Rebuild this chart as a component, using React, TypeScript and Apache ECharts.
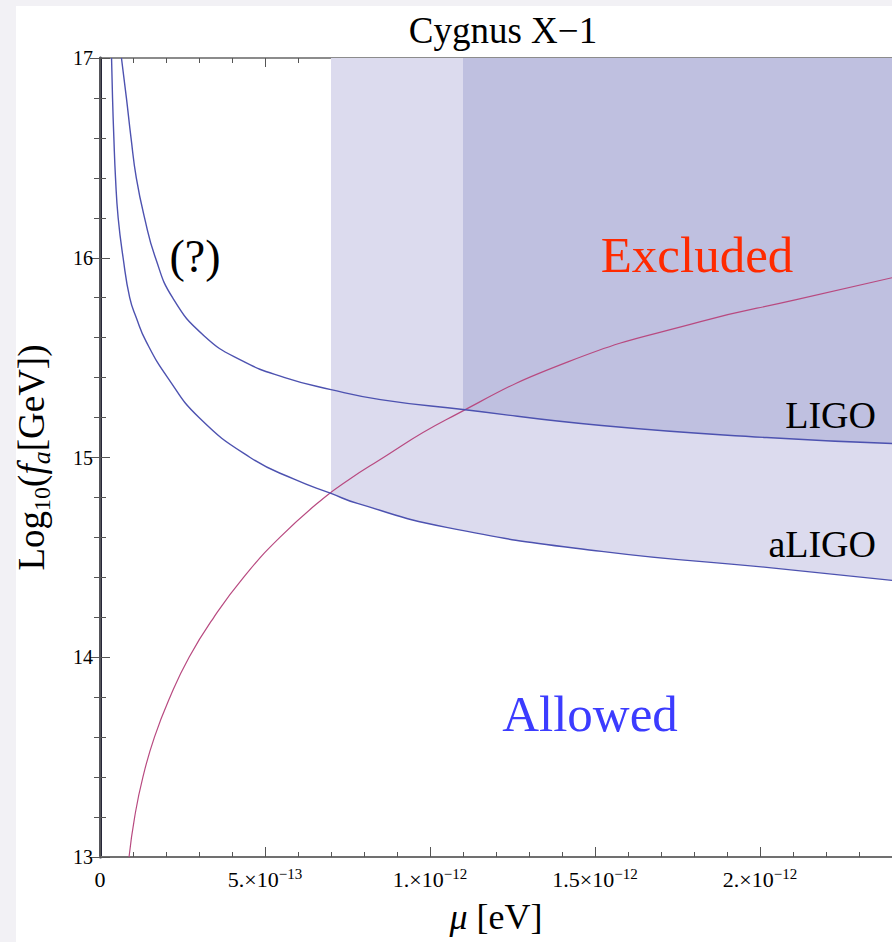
import { useEffect, useRef } from 'react';
import * as echarts from 'echarts';

const FONT = '"Liberation Serif", "Times New Roman", Times, serif';

// μ in units of 1e-13 eV ; values are Log10(f_a [GeV])
const ligoMu = [0.65, 0.8, 0.94, 1.1, 1.35, 1.68, 2.2, 3.15, 4.3, 5.6, 7.0, 8.5, 11.0, 15.2, 20.2, 24];
const ligoLogFa = [17, 16.8, 16.6, 16.4, 16.2, 16.0, 15.8, 15.61, 15.485, 15.4, 15.34, 15.29, 15.24, 15.16, 15.1, 15.07];

const aligoMu = [0.35, 0.38, 0.42, 0.47, 0.55, 0.7, 0.9, 1.1, 1.4, 2.05, 3.0, 4.55, 5.9, 7.0, 7.8, 10.5, 15.2, 20.2, 24];
const aligoLogFa = [17, 16.8, 16.6, 16.4, 16.2, 16.0, 15.8, 15.7, 15.58, 15.4, 15.2, 15.0, 14.89, 14.82, 14.77, 14.65, 14.53, 14.45, 14.385];

const bhMu = [0.88, 1.05, 1.3, 1.65, 2.12, 2.7, 3.45, 4.35, 5.45, 6.8, 7.55, 8.3, 10.5, 14.2, 18.2, 21.1, 24];
const bhLogFa = [13, 13.2, 13.4, 13.6, 13.8, 14.0, 14.2, 14.4, 14.6, 14.8, 14.89, 14.97, 15.19, 15.48, 15.68, 15.79, 15.9];

// excluded-region starting masses (1e-13 eV)
const aligoRegionStart = 7.0;
const ligoRegionStart = 11.0;

// x tick labels
const xTickValues = [0, 5, 10, 15, 20];
const xTickMantissa = ['0', '5.×10', '1.×10', '1.5×10', '2.×10'];
const xTickExponent = ['', '−13', '−12', '−12', '−12'];

const X_MIN = 0;
const X_MAX = 24;
const Y_MIN = 13;
const Y_MAX = 17;

const BLUE = '#4d52b0';
const RED = '#b84a80';
const LIGHT = '#dcdbee';
const DARK = '#bfc0e0';
const SMOOTH = 0.5;

function pairs(xs: number[], ys: number[]) {
  return xs.map((x, i) => [x, ys[i]]);
}

function fromX(xs: number[], ys: number[], start: number) {
  return pairs(xs, ys).filter((p) => p[0] >= start);
}

export default function App() {
  const ref = useRef<HTMLDivElement>(null);

  useEffect(() => {
    const chart = echarts.init(ref.current!, null, { renderer: 'svg' });

    const tickColor = '#555';
    const baseX = {
      type: 'value',
      min: X_MIN,
      max: X_MAX,
      splitLine: { show: false },
      axisLabel: { show: false },
    };
    const baseY = {
      type: 'value',
      min: Y_MIN,
      max: Y_MAX,
      splitLine: { show: false },
      axisLabel: { show: false },
    };

    const option: any = {
      animation: false,
      backgroundColor: '#ffffff',
      title: {
        text: 'Cygnus X−1',
        left: 498,
        top: 4,
        textAlign: 'center',
        textStyle: { fontFamily: FONT, fontSize: 37, fontWeight: 'normal', color: '#000', lineHeight: 42 },
      },
      grid: { left: 100, top: 58, right: -8, bottom: 85, containLabel: false },
      xAxis: [
        {
          ...baseX,
          position: 'bottom',
          interval: 5,
          axisLine: { show: true, lineStyle: { color: '#707070', width: 2 } },
          axisTick: { show: true, inside: true, length: 10, lineStyle: { color: tickColor, width: 1 } },
          axisLabel: {
            show: true,
            margin: 9,
            showMaxLabel: false,
            formatter: (v: number) => {
              const i = xTickValues.indexOf(Math.round(v * 1000) / 1000);
              if (i < 0) return '';
              return xTickExponent[i]
                ? `{m|${xTickMantissa[i]}}{s|${xTickExponent[i]}}`
                : `{m|${xTickMantissa[i]}}`;
            },
            rich: {
              m: { fontFamily: FONT, fontSize: 22, color: '#000', lineHeight: 26 },
              s: { fontFamily: FONT, fontSize: 15, color: '#000', lineHeight: 14, verticalAlign: 'top' },
            },
          },
          name: '{i|μ}{n| [eV]}',
          nameLocation: 'middle',
          nameGap: 40,
          nameTextStyle: {
            rich: {
              i: { fontFamily: FONT, fontSize: 36, fontStyle: 'italic', color: '#000', lineHeight: 40 },
              n: { fontFamily: FONT, fontSize: 36, color: '#000', lineHeight: 40 },
            },
          },
        },
        {
          ...baseX,
          position: 'bottom',
          interval: 1,
          axisLine: { show: false },
          axisTick: { show: true, inside: true, length: 5, lineStyle: { color: tickColor, width: 1 } },
        },
        {
          ...baseX,
          position: 'top',
          interval: 5,
          axisLine: { show: true, lineStyle: { color: '#666', width: 1.5 } },
          axisTick: { show: true, inside: true, length: 9, lineStyle: { color: tickColor, width: 1 } },
        },
        {
          ...baseX,
          position: 'top',
          interval: 1,
          axisLine: { show: false },
          axisTick: { show: true, inside: true, length: 5, lineStyle: { color: tickColor, width: 1 } },
        },
      ],
      yAxis: [
        {
          ...baseY,
          position: 'left',
          interval: 1,
          axisLine: { show: true, lineStyle: { color: '#262638', width: 3 } },
          axisTick: { show: true, inside: true, length: 10, lineStyle: { color: tickColor, width: 1 } },
          axisLabel: { show: true, margin: 7, fontFamily: FONT, fontSize: 20, color: '#000' },
          name: '{n|Log}{sub|10}{n|(}{i|f}{subi|a}{n|[GeV])}',
          nameLocation: 'middle',
          nameGap: 46,
          nameRotate: 90,
          nameTextStyle: {
            rich: {
              n: { fontFamily: FONT, fontSize: 37, color: '#000', lineHeight: 46 },
              i: { fontFamily: FONT, fontSize: 37, fontStyle: 'italic', color: '#000', lineHeight: 46 },
              sub: { fontFamily: FONT, fontSize: 24, color: '#000', lineHeight: 20, verticalAlign: 'bottom' },
              subi: { fontFamily: FONT, fontSize: 26, fontStyle: 'italic', color: '#000', lineHeight: 20, verticalAlign: 'bottom' },
            },
          },
        },
        {
          ...baseY,
          position: 'left',
          interval: 0.2,
          axisLine: { show: false },
          axisTick: { show: true, inside: true, length: 6, lineStyle: { color: tickColor, width: 1 } },
        },
        {
          ...baseY,
          position: 'right',
          interval: 1,
          axisLine: { show: true, lineStyle: { color: '#666', width: 1.5 } },
          axisTick: { show: true, inside: true, length: 10, lineStyle: { color: tickColor, width: 1 } },
        },
        {
          ...baseY,
          position: 'right',
          interval: 0.2,
          axisLine: { show: false },
          axisTick: { show: true, inside: true, length: 6, lineStyle: { color: tickColor, width: 1 } },
        },
      ],
      series: [
        {
          name: 'aLIGO excluded',
          type: 'line',
          data: fromX(aligoMu, aligoLogFa, aligoRegionStart),
          symbol: 'none',
          smooth: SMOOTH,
          lineStyle: { width: 0 },
          areaStyle: { color: LIGHT, opacity: 1, origin: 'end' },
          z: 1,
        },
        {
          name: 'LIGO excluded',
          type: 'line',
          data: fromX(ligoMu, ligoLogFa, ligoRegionStart),
          symbol: 'none',
          smooth: SMOOTH,
          lineStyle: { width: 0 },
          areaStyle: { color: DARK, opacity: 1, origin: 'end' },
          z: 1,
        },
        {
          name: 'BH',
          type: 'line',
          data: pairs(bhMu, bhLogFa),
          symbol: 'none',
          smooth: SMOOTH,
          lineStyle: { color: RED, width: 1.2 },
          z: 3,
        },
        {
          name: 'LIGO',
          type: 'line',
          data: pairs(ligoMu, ligoLogFa),
          symbol: 'none',
          smooth: SMOOTH,
          lineStyle: { color: BLUE, width: 1.4 },
          z: 4,
        },
        {
          name: 'aLIGO',
          type: 'line',
          data: pairs(aligoMu, aligoLogFa),
          symbol: 'none',
          smooth: SMOOTH,
          lineStyle: { color: BLUE, width: 1.4 },
          z: 4,
        },
      ],
      graphic: [
        { type: 'rect', shape: { x: 0, y: 0, width: 16, height: 942 }, style: { fill: '#f2f1f5' }, z: -10, silent: true },
        { type: 'rect', shape: { x: 0, y: 0, width: 892, height: 6 }, style: { fill: '#f2f1f5' }, z: -10, silent: true },
        {
          type: 'text', x: 195, y: 256, z: 100,
          style: { text: '(?)', fontFamily: FONT, fontSize: 46, fill: '#000', align: 'center', verticalAlign: 'middle' },
        },
        {
          type: 'text', x: 697, y: 255, z: 100,
          style: { text: 'Excluded', fontFamily: FONT, fontSize: 51, fill: '#ff2a00', align: 'center', verticalAlign: 'middle' },
        },
        {
          type: 'text', x: 590, y: 714, z: 100,
          style: { text: 'Allowed', fontFamily: FONT, fontSize: 51, fill: '#3c3cff', align: 'center', verticalAlign: 'middle' },
        },
        {
          type: 'text', x: 876, y: 415, z: 100,
          style: { text: 'LIGO', fontFamily: FONT, fontSize: 38, fill: '#000', align: 'right', verticalAlign: 'middle' },
        },
        {
          type: 'text', x: 876, y: 544, z: 100,
          style: { text: 'aLIGO', fontFamily: FONT, fontSize: 38, fill: '#000', align: 'right', verticalAlign: 'middle' },
        },
      ],
    };

    chart.setOption(option);
    return () => chart.dispose();
  }, []);

  return (
    <div
      ref={ref}
      style={{ position: 'fixed', left: 0, top: 0, width: 892, height: 942, background: '#fff' }}
    />
  );
}
